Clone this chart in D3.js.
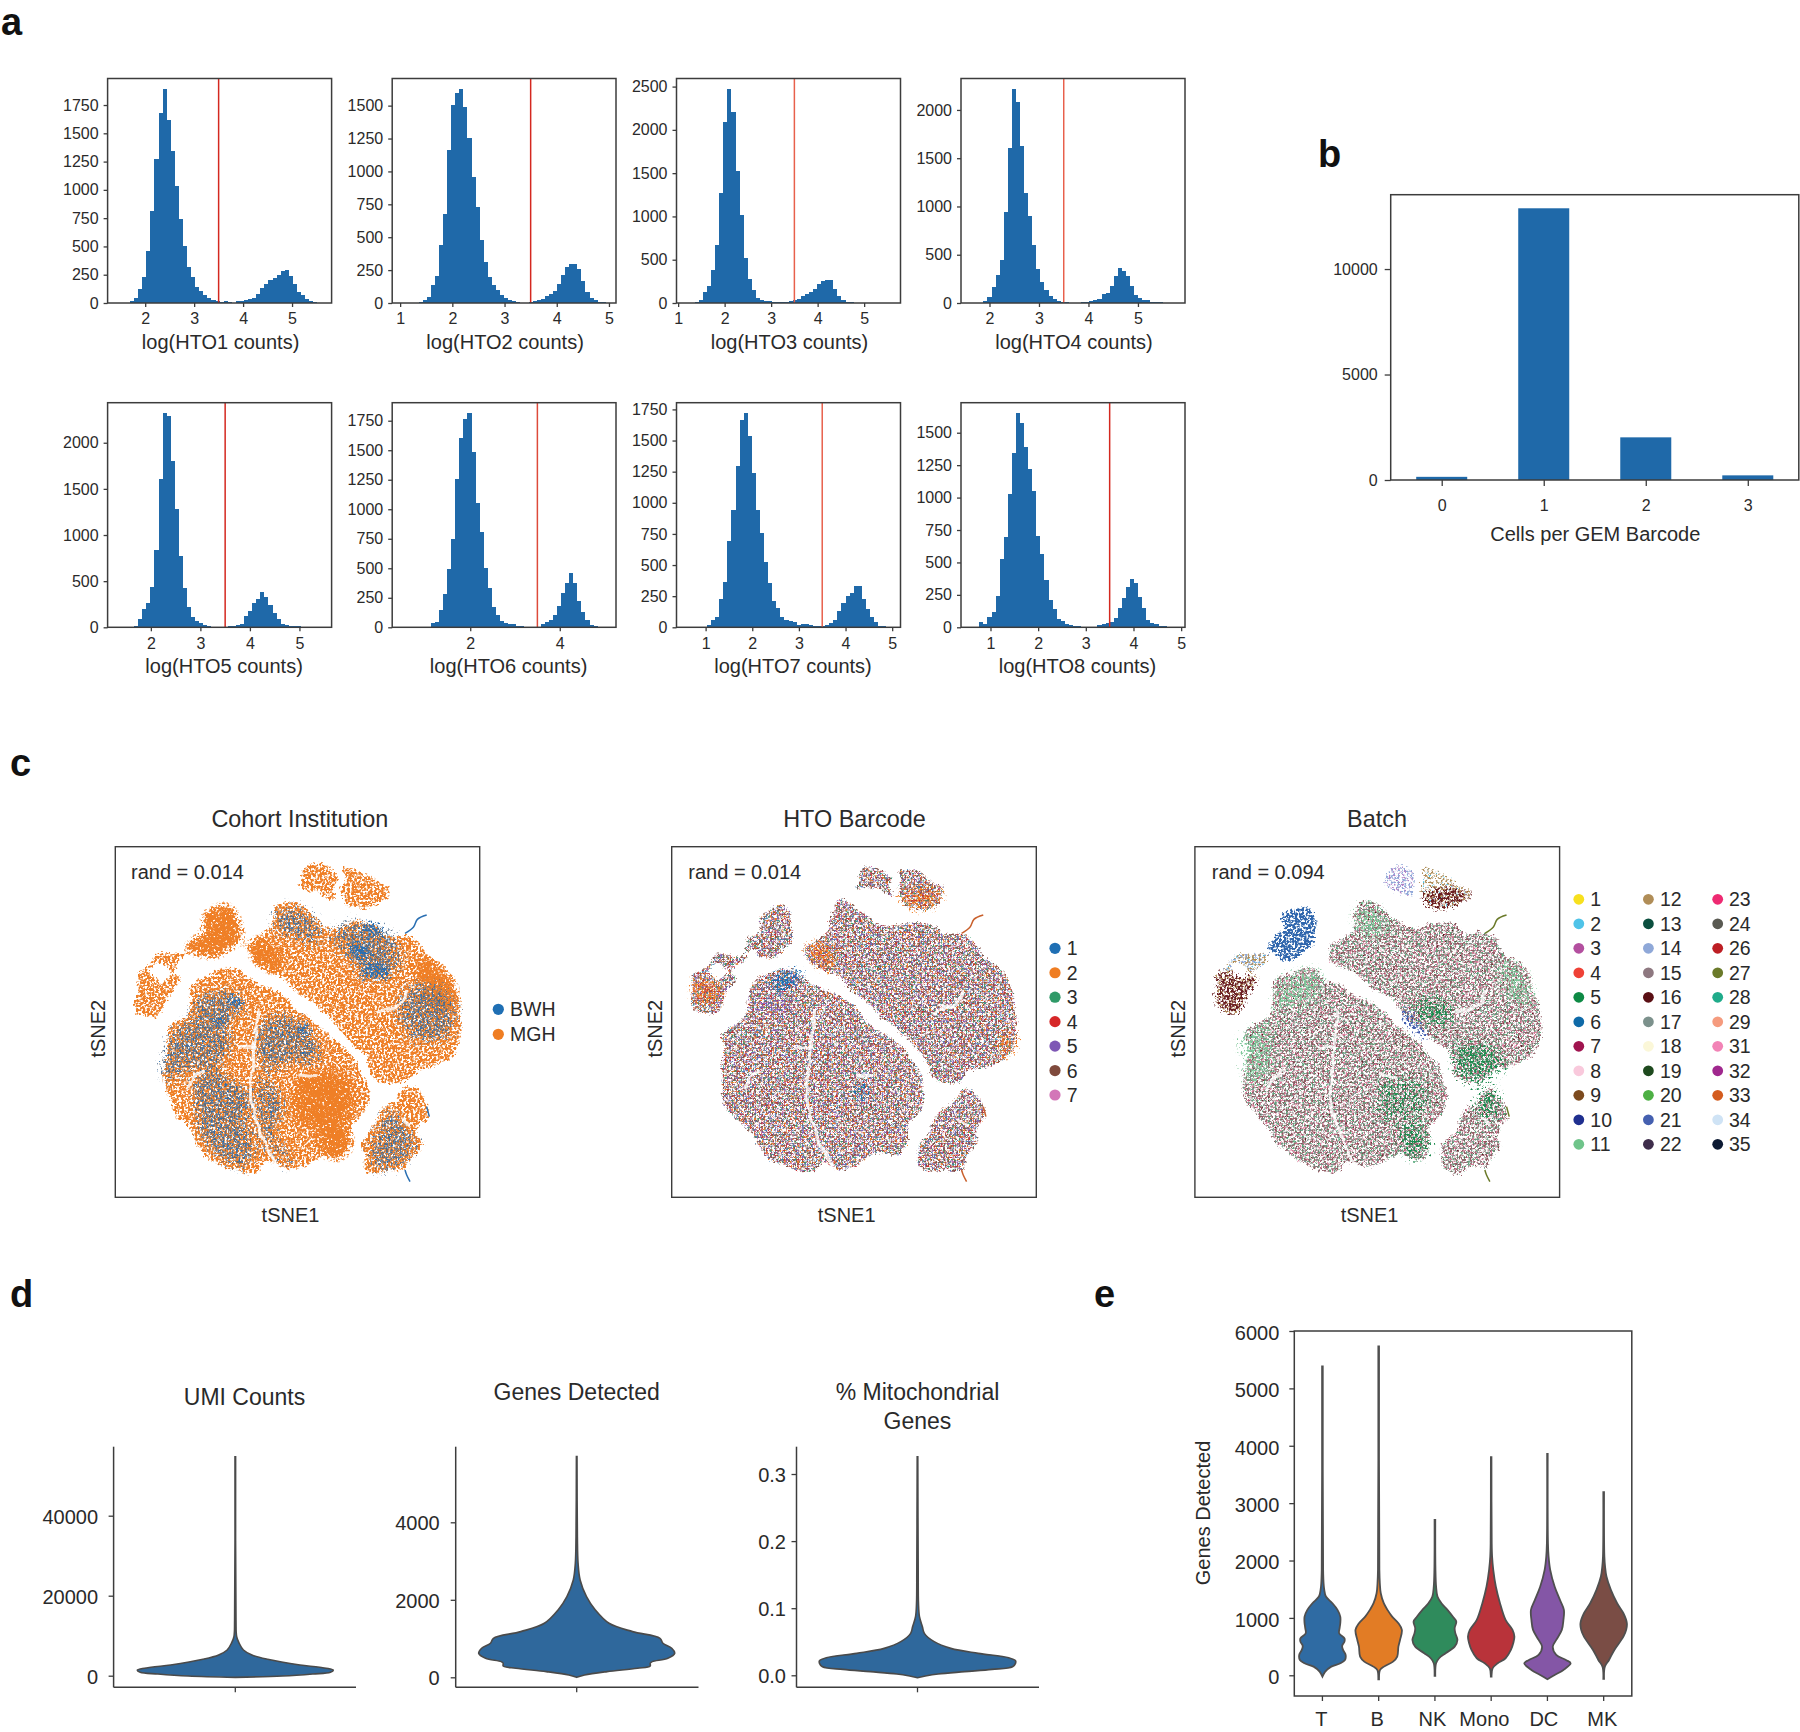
<!DOCTYPE html>
<html><head><meta charset="utf-8">
<script src="https://cdn.jsdelivr.net/npm/d3@7/dist/d3.min.js"></script>
<style>
html,body{margin:0;padding:0;background:#fff}
svg{display:block}
text{font-family:"Liberation Sans",Arial,sans-serif;fill:#2a2a2a}
.panel{font-weight:700;font-size:38px;fill:#111}
</style></head><body>
<svg id="c" width="1800" height="1732"></svg>
<script>
// ---------- panel a: histogram counts (50 bins each) ----------
const htoNames=["HTO1","HTO2","HTO3","HTO4","HTO5","HTO6","HTO7","HTO8"];
const htoRange=[[1.44,5.60],[1.043,4.94],[1.184,5.563],[1.63,5.745],[1.332,5.444],[0.484,5.029],[0.594,4.96],[0.595,4.867]];
const htoYTicks=[[0,250,500,750,1000,1250,1500,1750],[0,250,500,750,1000,1250,1500],[0,500,1000,1500,2000,2500],[0,500,1000,1500,2000],[0,500,1000,1500,2000],[0,250,500,750,1000,1250,1500,1750],[0,250,500,750,1000,1250,1500,1750],[0,250,500,750,1000,1250,1500]];
const htoXTicks=[[2,3,4,5],[1,2,3,4,5],[1,2,3,4,5],[2,3,4,5],[2,3,4,5],[2,4],[1,2,3,4,5],[1,2,3,4,5]];
const hto1=[0,0,0,15,40,120,230,460,815,1270,1680,1890,1620,1340,1030,740,500,320,230,140,110,70,45,30,15,10,15,10,3,15,15,25,35,45,80,135,170,205,220,245,285,295,240,170,95,70,35,15,5,2];
const hto2=[0,0,0,0,8,20,46,135,203,440,673,1166,1506,1593,1625,1488,1252,960,731,477,312,198,135,100,58,38,20,13,8,3,3,5,13,20,33,50,70,90,147,210,274,300,300,262,168,84,38,20,10,5];
const hto3=[0,0,8,30,127,193,378,675,1273,2095,2470,2210,1528,1022,525,283,147,58,30,23,20,12,12,12,15,23,38,50,77,108,127,166,216,255,262,270,162,77,38,15,8,4,2,2,1,1,0,0,0,0];
const hto4=[0,0,0,20,62,166,287,443,945,1610,2215,2086,1630,1135,900,600,356,218,138,69,41,20,7,7,5,3,3,14,7,20,35,41,97,107,180,277,367,332,284,180,80,52,28,28,14,10,7,3,1,1];
const hto5=[0,0,0,3,15,94,199,260,440,834,1606,2318,2292,1800,1278,776,422,217,108,72,43,25,15,7,4,3,3,11,15,22,32,123,180,260,303,383,332,242,152,87,36,25,18,15,11,7,7,4,3,2];
const hto6=[0,0,0,0,0,0,6,40,42,147,280,494,745,1256,1600,1764,1812,1488,1050,810,505,330,175,104,56,34,25,28,11,8,6,5,3,6,28,42,62,100,180,288,373,457,373,226,133,62,17,11,6,3];
const hto7=[0,0,0,0,5,19,59,86,225,361,693,942,1295,1664,1718,1539,1242,942,755,527,353,214,153,80,59,48,40,21,27,24,19,13,11,13,19,32,59,131,193,252,273,335,335,225,147,86,40,13,11,5];
const hto8=[2,5,38,26,82,116,241,526,698,1025,1346,1649,1577,1392,1217,1053,706,562,365,211,141,64,46,23,15,13,8,5,5,3,5,15,23,31,44,72,146,223,308,372,339,236,146,56,36,23,13,8,5,3];
const htoCounts=[hto1,hto2,hto3,hto4,hto5,hto6,hto7,hto8];
const htoCut=3.5;
// ---------- panel b ----------
const gemCats=[0,1,2,3];
const gemValues=[150,12880,2022,220];
const gemTicks=[0,5000,10000];
// ---------- panel c: tSNE territories (x,y in the tSNE units of the shared scale) ----------
const isleA1=[[665,255],[690,225],[720,220],[755,240],[772,262],[760,290],[770,325],[745,320],[715,300],[680,296],[655,292],[665,270]];
const isleA2=[[785,235],[830,240],[870,258],[905,280],[930,292],[920,325],[880,350],[840,360],[800,345],[785,300],[790,270]];
const isleB1=[[370,372],[405,355],[442,345],[462,365],[470,430],[455,470],[415,500],[380,510],[345,492],[318,480],[345,445],[375,425]];
const isleB2=[[240,485],[265,485],[300,490],[328,495],[300,530],[275,548],[240,520],[225,530],[215,545],[180,545],[210,530]];
const isleB3=[[175,545],[215,545],[240,565],[275,548],[300,565],[270,610],[250,655],[215,672],[165,650],[172,590]];
const massC=[[505,470],[530,450],[575,410],[590,340],[625,335],[680,360],[720,395],[770,410],[830,400],[890,395],[925,430],[975,430],[1010,440],[1040,490],[1090,530],[1125,585],[1140,660],[1148,740],[1120,800],[1085,825],[1010,840],[970,875],[930,880],[885,860],[862,800],[815,755],[760,700],[700,640],[625,590],[560,540],[515,510]];
const massD=[[330,590],[390,550],[470,530],[500,565],[560,595],[620,625],[680,670],[740,730],[790,770],[840,830],[865,890],[850,960],[820,1010],[805,1075],[770,1105],[730,1095],[660,1130],[620,1135],[560,1120],[530,1150],[480,1145],[420,1120],[360,1075],[320,1010],[270,950],[250,880],[260,790],[260,715],[330,680]];
const massE=[[965,900],[1000,895],[1040,950],[1045,985],[1020,1010],[1022,1070],[1005,1100],[975,1140],[930,1140],[880,1155],[845,1135],[850,1060],[880,1020],[910,960],[950,930]];
const allIsles=[isleA1,isleA2,isleB1,isleB2,isleB3,massC,massD,massE];
const mixC1=[[590,340],[680,360],[735,400],[720,470],[640,460],[580,410]];
const mixC2=[[760,410],[890,395],[960,440],[950,560],[850,570],[800,500],[760,470]];
const mixC3=[[970,590],[1100,590],[1140,680],[1090,760],[990,760],[950,690]];
const mixD1=[[340,620],[440,590],[500,620],[490,680],[390,700],[340,680]];
const mixD2=[[260,730],[420,690],[470,760],[420,830],[340,850],[260,900]];
const mixD3=[[540,670],[660,670],[730,780],[700,840],[640,830],[560,850],[520,800]];
const mixD4=[[330,880],[420,840],[500,900],[510,1000],[540,1100],[480,1140],[420,1110],[350,1040],[325,950]];
const mixD5=[[520,860],[590,880],[620,960],[600,1040],[660,1120],[600,1130],[550,1060],[525,970]];
const mixE=[[930,950],[990,1010],[1020,1060],[990,1120],[880,1150],[850,1090],[890,1020]];
const cohortMixed=[mixC1,mixC2,mixC3,mixD1,mixD2,mixD3,mixD4,mixD5,mixE];
const blueSpot1=[[445,620],[490,620],[495,650],[450,655]];
const blueSpot2=[[400,680],[440,680],[445,705],[405,705]];
const blueSpot3=[[655,700],[685,700],[690,740],[660,740]];
const blueSpot4=[[810,460],[860,465],[860,510],[815,505]];
const blueSpot5=[[860,395],[905,395],[910,430],[860,430]];
const blueSpot6=[[850,530],[930,530],[930,565],[850,565]];
const blueSpots=[blueSpot1,blueSpot2,blueSpot3,blueSpot4,blueSpot5,blueSpot6];
const orangeHotA=[[785,305],[925,295],[920,325],[880,350],[840,360],[795,345]];
const orangeHotC=[[505,470],[560,445],[610,500],[590,545],[540,525]];
const orangeHotB=[[175,560],[240,570],[260,600],[230,650],[175,640]];
const orangeHotR=[[1080,740],[1148,730],[1125,800],[1085,820]];
const blueHotD=[[415,560],[490,530],[500,570],[440,605],[410,590]];
const blueHotD2=[[650,880],[690,880],[695,920],[655,920]];
const purpleHotD=[[340,630],[480,620],[470,665],[345,670]];
const greenC1=[[880,770],[1000,760],[1040,830],[960,880],[890,860]];
const greenC2=[[770,630],[870,630],[880,700],[790,700]];
const greenD1=[[715,1000],[790,990],[810,1080],[740,1100]];
const greenD2=[[650,870],[800,860],[800,980],[650,990]];
const greenE=[[950,900],[1020,900],[1020,990],[960,990]];
const paleD=[[340,590],[470,530],[510,570],[450,650],[340,670]];
const paleC=[[1020,500],[1120,580],[1130,650],[1040,640]];
const paleC2=[[585,345],[680,365],[700,440],[600,440]];
const paleD2=[[255,730],[330,700],[330,870],[255,880]];
const sliverC=[[735,650],[780,690],[805,755],[765,740]];
const liloA=[[665,255],[720,220],[772,262],[760,320],[680,296]];
const tailCtop=[[975,430],[1000,412],[1012,388],[1040,375]];
const tailE=[[975,1140],[980,1155],[990,1175]];
const tailE2=[[1040,950],[1048,980]];
const gapMain=[[535,655],[528,720],[520,790],[515,860],[512,930],[530,1000],[560,1075],[590,1130]];
const gapSide=[[320,900],[345,860],[372,840]];
const gapMid=[[480,772],[530,772]];
const gapLow=[[655,855],[710,860]];
const gapC1=[[890,668],[930,655],[965,640],[980,600]];
const gapE=[[965,985],[990,1005]];
const gaps=[gapMain,gapSide,gapMid,gapLow,gapC1,gapE];
const tsneTails=[tailCtop,tailE,tailE2];
// each layer: colour, density cut of the speckle, edge softness, territories
const cohortLayers=[
 {c:"#ef7f26",cut:.38,s:1.5,r:allIsles},
 {c:"#ef7f26",cut:.30,s:6,r:[isleB1,orangeHotC,greenD2,greenD1,paleC]},
 {c:"#5f7c9c",cut:.49,s:7,r:cohortMixed},
 {c:"#66666c",cut:.54,s:7,r:cohortMixed},
 {c:"#2a6fb2",cut:.59,s:7,r:cohortMixed},
 {c:"#2a6fb2",cut:.40,s:3,r:blueSpots}];
const htoLayers=[
 {c:"#85564c",cut:.49,s:1.5,r:allIsles},
 {c:"#c93035",cut:.58,s:1.5,r:allIsles},
 {c:"#4a86bb",cut:.59,s:1.5,r:allIsles},
 {c:"#8563ba",cut:.59,s:1.5,r:allIsles},
 {c:"#3a9f70",cut:.61,s:1.5,r:allIsles},
 {c:"#ef7d22",cut:.61,s:1.5,r:allIsles},
 {c:"#d376b8",cut:.65,s:1.5,r:allIsles},
 {c:"#ef7d22",cut:.43,s:6,r:[orangeHotA,orangeHotC,orangeHotB,orangeHotR]},
 {c:"#c93035",cut:.57,s:6,r:[orangeHotA,orangeHotC,orangeHotB,orangeHotR]},
 {c:"#1f6fb4",cut:.42,s:5,r:[blueHotD,blueHotD2]},
 {c:"#7e57b5",cut:.50,s:6,r:[purpleHotD]}];
const batchLayers=[
 {c:"#925d65",cut:.48,s:1.5,r:[massC,massD,massE]},
 {c:"#5da67c",cut:.56,s:1.5,r:[massC,massD,massE]},
 {c:"#e07a9c",cut:.58,s:1.5,r:[massC,massD,massE]},
 {c:"#7c918c",cut:.59,s:1.5,r:[massC,massD,massE]},
 {c:"#5a0f14",cut:.69,s:1.5,r:[massC,massD,massE]},
 {c:"#7fc79a",cut:.45,s:7,r:[paleD,paleC,paleC2,paleD2]},
 {c:"#1c8b4e",cut:.44,s:7,r:[greenC1,greenC2,greenD1,greenE]},
 {c:"#1c8b4e",cut:.51,s:7,r:[greenD2]},
 {c:"#4560b0",cut:.40,s:4,r:[sliverC]},
 {c:"#2f66ad",cut:.38,s:1.5,r:[isleB1]},
 {c:"#8fa8d8",cut:.50,s:1.5,r:[isleB2,liloA]},
 {c:"#b27fc4",cut:.55,s:1.5,r:[liloA]},
 {c:"#4fc3e8",cut:.62,s:1.5,r:[isleB2,isleA2]},
 {c:"#b08d57",cut:.50,s:1.5,r:[isleB2,isleA2,isleB3]},
 {c:"#6b1f22",cut:.42,s:3,r:[orangeHotA,isleB3]}];
const cohortLegend=["BWH","MGH"], cohortColors=["#1f6fb4","#ef7d22"];
const htoLegend=["1","2","3","4","5","6","7"], htoColors=["#1f6fb4","#ef7d22","#2f9a68","#d62728","#7e57b5","#7f4a3c","#d376b8"];
const batchLegend=["1","2","3","4","5","6","7","8","9","10","11","12","13","14","15","16","17","18","19","20","21","22","23","24","26","27","28","29","31","32","33","34","35"];
const batchColors=["#f7e01e","#4fc3e8","#b34f9f","#ef4136","#0e8a45","#0f6aa8","#a0144f","#f9c9dc","#7c4a1e","#1f2f8f","#6fc48a","#b08d57","#0b4f3f","#8fa8d8","#8e7880","#5a0f14","#7c918c","#fbf7d8","#1e4a1e","#4db044","#4560b0","#3e2d4b","#ee2a72","#5a5a52","#bd1e24","#6b7a2a","#1fab8a","#f59b7e","#f283b6","#a0288e","#d45c1e","#cfe3f5","#0d1a33"];
// ---------- panel d: violin outlines (value, relative density) ----------
const umiVal=[-408,-75,425,842,1425,2092,2675,4092,5175,6425,8092,9758,13925,54750];
const umiDen=[0,.48,.79,.97,1,.86,.66,.33,.17,.083,.04,.014,.007,.003];
const genesVal=[0,60,147,233,293,362,405,491,620,749,878,1007,1179,1394,1738,2082,2512,2942,3630,5695];
const genesDen=[0,.08,.31,.62,.75,.75,.77,.93,1,.97,.88,.85,.57,.33,.19,.10,.035,.014,.007,.003];
const mitoVal=[-.0036,-.0011,.0019,.0054,.0088,.0128,.0178,.0217,.0262,.0327,.0401,.0501,.0625,.0724,.0873,.1072,.157,.3258];
const mitoDen=[0,.08,.21,.48,.76,.97,1,1,.93,.62,.34,.17,.07,.05,.02,.01,.007,.003];
// ---------- panel e ----------
const cellTypes=["T","B","NK","Mono","DC","MK"];
const cellColors=["#2f6ba3","#e27c25","#2f8b5c","#b9333a","#8456a6","#7a4d45"];
const tVal=[-23,64,151,209,267,355,442,512,587,645,733,820,907,1023,1140,1256,1372,1488,1605,1837,5384];
const tDen=[0,.12,.38,.77,.97,1,.89,.85,.95,.95,.72,.74,.77,.77,.65,.43,.15,.08,.05,.03,.015];
const bVal=[-70,93,151,238,326,500,616,791,907,1023,1140,1256,1430,1605,1837,5733];
const bDen=[.015,.06,.23,.62,.8,.85,.92,1,.85,.58,.38,.22,.09,.05,.03,.015];
const nkVal=[-12,209,297,384,500,616,733,820,936,1023,1140,1256,1372,1547,1837,2709];
const nkDen=[.015,.05,.18,.46,.85,.97,.88,.85,.92,.77,.54,.28,.11,.05,.023,.015];
const monoVal=[-23,122,209,297,442,558,674,791,965,1256,1547,1837,2070,2302,3802];
const monoDen=[.015,.06,.28,.62,.85,.95,1,.92,.62,.38,.2,.09,.04,.023,.012];
const dcVal=[-70,6,93,209,267,355,500,616,791,965,1140,1314,1547,1837,2070,2302,3860];
const dcDen=[0,.31,.69,1,.8,.38,.23,.38,.62,.69,.71,.54,.31,.12,.05,.023,.012];
const mkVal=[-64,151,267,442,674,791,907,1081,1256,1488,1721,1895,2070,3192];
const mkDen=[.015,.05,.23,.46,.85,.97,1,.85,.58,.31,.12,.06,.03,.015];
const cellVal=[tVal,bVal,nkVal,monoVal,dcVal,mkVal], cellDen=[tDen,bDen,nkDen,monoDen,dcDen,mkDen];

// ---------- drawing ----------
const svg=d3.select("#c");
const defs=svg.append("defs");
const INK="#3c3c3c", BAR="#1f69a9";
function styleAxis(g,size,dy){
  g.select(".domain").remove();
  g.selectAll(".tick line").attr("stroke",INK).attr("stroke-width",1.3);
  g.selectAll(".tick text").attr("font-size",size).attr("fill","#2a2a2a").style("font-family",'"Liberation Sans",Arial,sans-serif');
  if(dy) g.selectAll(".tick text").attr("dy",dy);
}
function txt(x,y,s,size,anchor="middle"){return svg.append("text").attr("x",x).attr("y",y).attr("font-size",size).attr("text-anchor",anchor).text(s);}
[["a",1,35],["b",1318,167],["c",10,776],["d",10,1307],["e",1094,1307]].forEach(p=>txt(p[1],p[2],p[0],38,"start").attr("class","panel"));

// histograms
const colX=[[107.6,331.6],[392.2,616],[676.5,900.5],[961,1185]];
const rowY=[[78.5,303],[402.7,627.3]];
const redStroke=["#d4281f","#d4281f","#e8604c","#e8604c","#d4281f","#dd4a3a","#e8604c","#d4281f"];
htoCounts.forEach((counts,k)=>{
  const [x0,x1]=colX[k%4],[yt,yb]=rowY[k<4?0:1];
  const [lo,hi]=htoRange[k],pad=(hi-lo)*.05;
  const x=d3.scaleLinear([lo-pad,hi+pad],[x0,x1]);
  const y=d3.scaleLinear([0,d3.max(counts)*1.05],[yb,yt]);
  const w=(hi-lo)/counts.length;
  const g=svg.append("g");
  g.selectAll("rect").data(counts).join("rect")
    .attr("x",(d,i)=>x(lo+i*w)).attr("width",(d,i)=>x(lo+(i+1)*w)-x(lo+i*w))
    .attr("y",d=>y(d)).attr("height",d=>yb-y(d)).attr("fill",BAR).attr("shape-rendering","crispEdges");
  g.append("line").attr("x1",x(htoCut)).attr("x2",x(htoCut)).attr("y1",yt).attr("y2",yb).attr("stroke",redStroke[k]).attr("stroke-width",1.5);
  g.append("rect").attr("x",x0).attr("y",yt).attr("width",x1-x0).attr("height",yb-yt).attr("fill","none").attr("stroke",INK).attr("stroke-width",1.5);
  styleAxis(svg.append("g").attr("transform",`translate(${x0},0)`).call(d3.axisLeft(y).tickValues(htoYTicks[k]).tickFormat(d3.format("d")).tickSize(4).tickPadding(5)),16);
  styleAxis(svg.append("g").attr("transform",`translate(0,${yb})`).call(d3.axisBottom(x).tickValues(htoXTicks[k]).tickFormat(d3.format("d")).tickSize(4).tickPadding(6)),16);
  txt((x0+x1)/2+(k<4?1:4.5),yb+46,`log(${htoNames[k]} counts)`,20);
});

// bar chart
{
  const x0=1390.7,x1=1798.8,yt=194.7,yb=480;
  const x=d3.scaleLinear([-.5,3.5],[x0,x1]);
  const y=d3.scaleLinear([0,d3.max(gemValues)*1.05],[yb,yt]);
  svg.append("g").selectAll("rect").data(gemCats).join("rect")
    .attr("x",d=>x(d-.25)).attr("width",x(.25)-x(-.25)).attr("y",(d,i)=>y(gemValues[i])).attr("height",(d,i)=>yb-y(gemValues[i])).attr("fill",BAR);
  svg.append("rect").attr("x",x0).attr("y",yt).attr("width",x1-x0).attr("height",yb-yt).attr("fill","none").attr("stroke",INK).attr("stroke-width",1.5);
  styleAxis(svg.append("g").attr("transform",`translate(${x0},0)`).call(d3.axisLeft(y).tickValues(gemTicks).tickFormat(d3.format("d")).tickSize(6).tickPadding(7)),16);
  styleAxis(svg.append("g").attr("transform",`translate(0,${yb})`).call(d3.axisBottom(x).tickValues(gemCats).tickFormat(d3.format("d")).tickSize(6).tickPadding(14)),16);
  txt(1595.3,541,"Cells per GEM Barcode",20);
}

// tSNE panels: territories are roughened and dissolved into a fine speckle per layer
let fid=0;
function speckle(color,cut,soft,box){
  const id="sp"+(++fid);
  const f=defs.append("filter").attr("id",id).attr("filterUnits","userSpaceOnUse")
    .attr("x",box[0]).attr("y",box[1]).attr("width",box[2]).attr("height",box[3]).attr("color-interpolation-filters","sRGB");
  f.append("feTurbulence").attr("type","fractalNoise").attr("baseFrequency",.035).attr("numOctaves",3).attr("seed",5).attr("result","warp");
  f.append("feDisplacementMap").attr("in","SourceAlpha").attr("in2","warp").attr("scale",13).attr("xChannelSelector","R").attr("yChannelSelector","G").attr("result","rough");
  f.append("feGaussianBlur").attr("in","rough").attr("stdDeviation",soft).attr("result","edge");
  f.append("feTurbulence").attr("type","fractalNoise").attr("baseFrequency",.44).attr("numOctaves",2).attr("seed",fid*7+3).attr("result","n");
  f.append("feColorMatrix").attr("in","n").attr("type","matrix").attr("values","0 0 0 0 0 0 0 0 0 0 0 0 0 0 0 0 0 0 1 0").attr("result","na");
  const k=7,w=.3;
  f.append("feComposite").attr("in","edge").attr("in2","na").attr("operator","arithmetic")
    .attr("k1",0).attr("k2",k*w).attr("k3",k).attr("k4",-k*(w+cut)).attr("result","m0");
  // hard limit: nothing is drawn where the territory has faded out
  f.append("feColorMatrix").attr("in","edge").attr("type","matrix").attr("values","0 0 0 0 0 0 0 0 0 0 0 0 0 0 0 0 0 0 8 -1.2").attr("result","limit");
  f.append("feComposite").attr("in","m0").attr("in2","limit").attr("operator","in").attr("result","m");
  f.append("feFlood").attr("flood-color",color).attr("result","ink");
  f.append("feComposite").attr("in","ink").attr("in2","m").attr("operator","in").attr("result","c");
  f.append("feGaussianBlur").attr("in","c").attr("stdDeviation",.5);
  return id;
}
function softLine(box){
  const id="sp"+(++fid);
  const f=defs.append("filter").attr("id",id).attr("filterUnits","userSpaceOnUse")
    .attr("x",box[0]).attr("y",box[1]).attr("width",box[2]).attr("height",box[3]).attr("color-interpolation-filters","sRGB");
  f.append("feTurbulence").attr("type","fractalNoise").attr("baseFrequency",.08).attr("numOctaves",2).attr("seed",9).attr("result","warp");
  f.append("feDisplacementMap").attr("in","SourceGraphic").attr("in2","warp").attr("scale",6).attr("xChannelSelector","R").attr("yChannelSelector","G").attr("result","d");
  f.append("feGaussianBlur").attr("in","d").attr("stdDeviation",.7);
  return id;
}
const tsneFrames=[{x0:115.3,x1:479.7,title:"Cohort Institution",tc:299.8,rand:"rand = 0.014",rx:131,lc:290.5,ly:98.3,layers:cohortLayers,tail:"#2a6fb2"},
 {x0:671.7,x1:1036.3,title:"HTO Barcode",tc:854.5,rand:"rand = 0.014",rx:688.3,lc:846.7,ly:655,layers:htoLayers,tail:"#c9602c"},
 {x0:1194.9,x1:1559.6,title:"Batch",tc:1377,rand:"rand = 0.094",rx:1211.8,lc:1369.6,ly:1178,layers:batchLayers,tail:"#6b7a2a"}];
const yt=846.7,yb=1197.3;
tsneFrames.forEach(fr=>{
  const x=d3.scaleLinear([106,1199],[fr.x0,fr.x1]);
  const y=d3.scaleLinear([170,1222],[yt,yb]);
  const blob=d3.line().x(d=>x(d[0])).y(d=>y(d[1])).curve(d3.curveCatmullRomClosed.alpha(.5));
  const open=d3.line().x(d=>x(d[0])).y(d=>y(d[1])).curve(d3.curveCatmullRom.alpha(.5));
  const box=[fr.x0,yt,fr.x1-fr.x0,yb-yt];
  const plot=svg.append("g");
  fr.layers.forEach(l=>{
    const g=plot.append("g").attr("filter",`url(#${speckle(l.c,l.cut,l.s,box)})`);
    g.selectAll("path").data(l.r).join("path").attr("d",blob).attr("fill","#000");
  });
  plot.append("g").selectAll("path").data(tsneTails).join("path").attr("d",open).attr("fill","none").attr("stroke",fr.tail).attr("stroke-width",1.5);
  plot.append("g").attr("filter",`url(#${softLine(box)})`).selectAll("path").data(gaps).join("path").attr("d",open).attr("fill","none").attr("stroke","#fff").attr("stroke-opacity",.8).attr("stroke-width",3);
  svg.append("rect").attr("x",fr.x0).attr("y",yt).attr("width",fr.x1-fr.x0).attr("height",yb-yt).attr("fill","none").attr("stroke",INK).attr("stroke-width",1.4);
  txt(fr.tc,827,fr.title,23.4);
  txt(fr.rx,879,fr.rand,20,"start");
  txt(fr.lc,1222,"tSNE1",20);
  txt(0,0,"tSNE2",20).attr("dominant-baseline","central").attr("transform",`translate(${fr.ly},1028.7) rotate(-90)`);
});
function legend(names,colors,dotX,textX,y0,step,r,size){
  names.forEach((n,i)=>{
    svg.append("circle").attr("cx",dotX).attr("cy",y0+i*step).attr("r",r).attr("fill",colors[i]);
    txt(textX,y0+i*step+7,n,size,"start");
  });
}
legend(cohortLegend,cohortColors,498.3,510,1009.3,25,5.6,19.5);
legend(htoLegend,htoColors,1055,1066.7,948.3,24.45,5.6,19.5);
[[0,11,1578.8,1590.3],[11,22,1648.4,1660],[22,33,1717.7,1729]].forEach(c=>
  legend(batchLegend.slice(c[0],c[1]),batchColors.slice(c[0],c[1]),c[2],c[3],899.3,24.5,5.4,19.5));

// single violins
const soloViolins=[
 {val:umiVal,den:umiDen,ax:113.6,r:356,c:235.3,tx:244.5,pad:10.5,dom:[-2900,57250],ticks:[0,20000,40000],fmt:d3.format("d"),title:["UMI Counts"],ty:1405},
 {val:genesVal,den:genesDen,ax:455.7,r:698.5,c:576.7,tx:576.7,pad:11,dom:[-258,5951],ticks:[0,2000,4000],fmt:d3.format("d"),title:["Genes Detected"],ty:1400},
 {val:mitoVal,den:mitoDen,ax:796.5,r:1039,c:917.5,tx:917.5,pad:5.5,dom:[-.0179,.3407],ticks:[0,.1,.2,.3],fmt:d3.format(".1f"),title:["% Mitochondrial","Genes"],ty:1400}];
soloViolins.forEach(v=>{
  const T=1446.7,B=1687.3;
  const y=d3.scaleLinear(v.dom,[B,T]);
  const w=d3.scaleLinear([0,1],[0,98]);
  const pts=v.val.map((d,i)=>[d,v.den[i]]);
  const area=d3.area().y(d=>y(d[0])).x0(d=>v.c-w(d[1])).x1(d=>v.c+w(d[1])).curve(d3.curveCatmullRom.alpha(.5));
  svg.append("path").attr("d",area(pts)).attr("fill","#2f689c").attr("stroke","#4a4a4a").attr("stroke-width",1.6);
  styleAxis(svg.append("g").attr("transform",`translate(${v.ax},0)`).call(d3.axisLeft(y).tickValues(v.ticks).tickFormat(v.fmt).tickSize(5).tickPadding(v.pad)),20,".38em");
  svg.append("line").attr("x1",v.ax).attr("x2",v.ax).attr("y1",T).attr("y2",B).attr("stroke",INK).attr("stroke-width",1.5);
  svg.append("line").attr("x1",v.ax).attr("x2",v.r).attr("y1",B).attr("y2",B).attr("stroke",INK).attr("stroke-width",1.5);
  svg.append("line").attr("x1",v.c).attr("x2",v.c).attr("y1",B).attr("y2",B+5).attr("stroke",INK).attr("stroke-width",1.3);
  v.title.forEach((t,i)=>txt(v.tx,v.ty+i*28.5,t,23));
});

// panel e
{
  const x0=1294.3,x1=1631.8,T=1331,B=1696;
  const x=d3.scaleBand(cellTypes,[x0,x1]);
  const y=d3.scaleLinear([-361,6000],[B,T]);
  const w=d3.scaleLinear([0,1],[0,23.2]);
  cellTypes.forEach((n,k)=>{
    const c=x(n)+x.bandwidth()/2;
    const pts=cellVal[k].map((d,i)=>[d,cellDen[k][i]]);
    const area=d3.area().y(d=>y(d[0])).x0(d=>c-w(d[1])).x1(d=>c+w(d[1])).curve(d3.curveCatmullRom.alpha(.5));
    svg.append("path").attr("d",area(pts)).attr("fill",cellColors[k]).attr("stroke","#4f4f4f").attr("stroke-width",1.8);
  });
  svg.append("rect").attr("x",x0).attr("y",T).attr("width",x1-x0).attr("height",B-T).attr("fill","none").attr("stroke",INK).attr("stroke-width",1.5);
  styleAxis(svg.append("g").attr("transform",`translate(${x0},0)`).call(d3.axisLeft(y).tickValues([0,1000,2000,3000,4000,5000,6000]).tickFormat(d3.format("d")).tickSize(5).tickPadding(10)),20,".42em");
  const labelShift=[-1,-1.4,-2.5,-6.8,-3.6,-1.4];
  const bottom=svg.append("g").attr("transform",`translate(0,${B})`).call(d3.axisBottom(x).tickSize(5).tickPadding(11));
  styleAxis(bottom,20);
  bottom.selectAll(".tick text").attr("dx",(d,i)=>labelShift[i]);
  txt(0,0,"Genes Detected",20).attr("dominant-baseline","central").attr("transform","translate(1203,1513) rotate(-90)");
}
</script></body></html>
